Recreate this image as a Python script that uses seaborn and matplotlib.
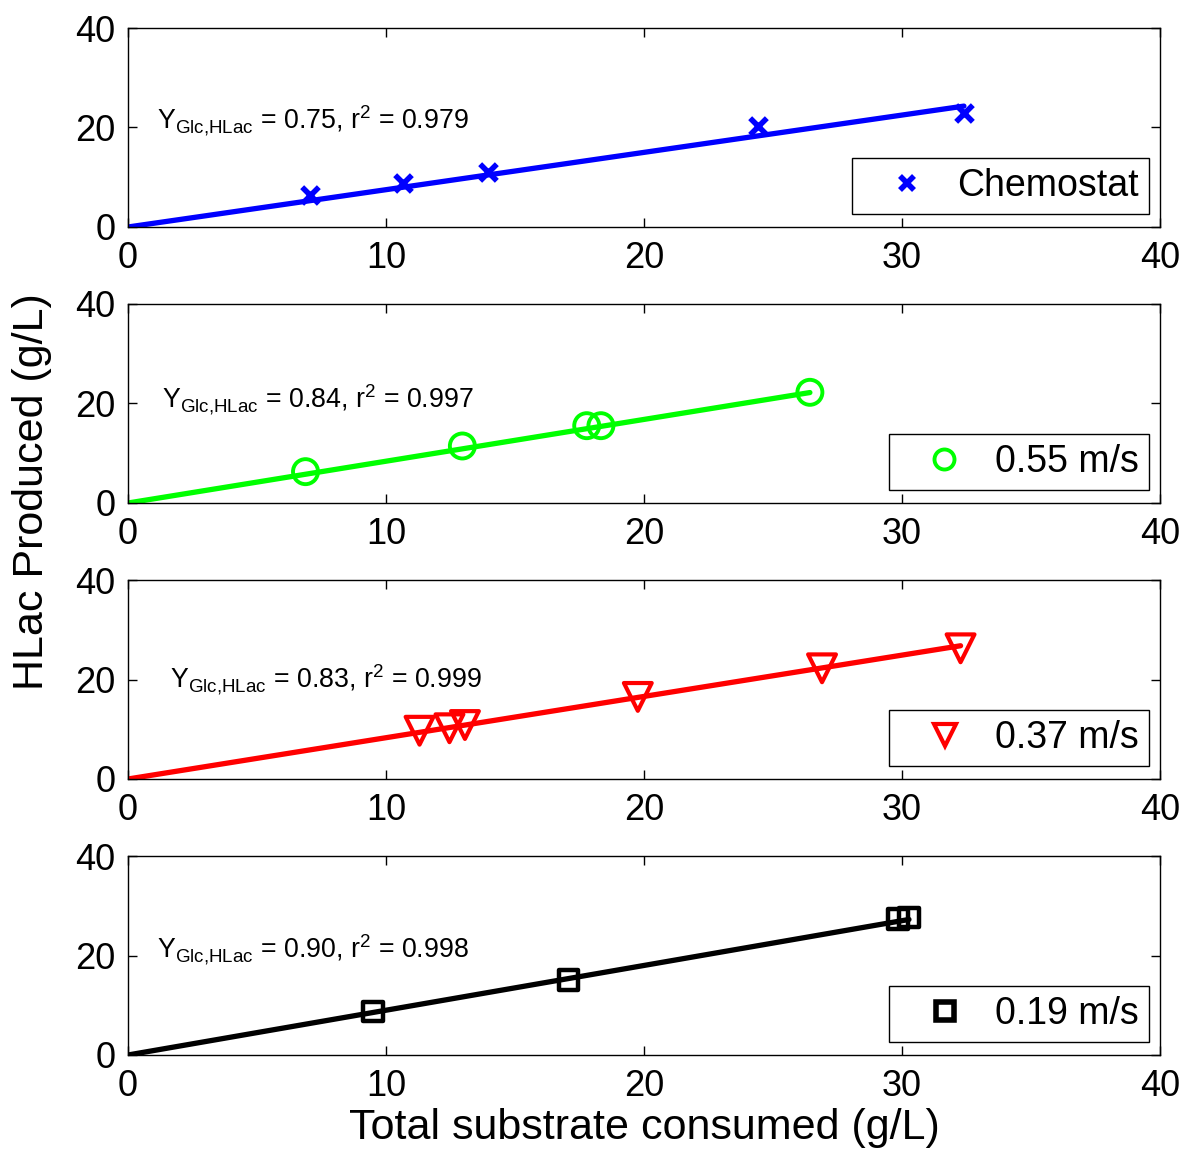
import matplotlib
matplotlib.use("Agg")
import matplotlib.pyplot as plt
from matplotlib.lines import Line2D
import numpy as np
import pandas as pd
import seaborn as sns

# ---- data: total substrate consumed (g/L) vs HLac produced (g/L) ----
chemostat_x = [7.05, 10.67, 13.94, 24.43, 32.4]
chemostat_y = [6.4, 8.9, 11.1, 20.3, 23.0]

v055_x = [6.88, 12.96, 17.78, 18.33, 26.43]
v055_y = [6.3, 11.46, 15.54, 15.54, 22.25]

v037_x = [11.3, 12.46, 13.06, 19.76, 26.9, 32.27]
v037_y = [9.7, 10.2, 10.85, 16.5, 22.25, 26.27]

v019_x = [9.5, 17.08, 29.85, 30.27]
v019_y = [8.7, 15.1, 27.3, 27.6]

series_labels = ["Chemostat", "0.55 m/s", "0.37 m/s", "0.19 m/s"]
yield_values = [0.75, 0.84, 0.83, 0.90]
r2_values = [0.979, 0.997, 0.999, 0.998]

x_ticks = [0, 10, 20, 30, 40]
y_ticks = [0, 20, 40]

# ---- style ----
sns.set_theme(style="ticks")
plt.rcParams["font.family"] = ["Liberation Sans", "DejaVu Sans"]
plt.rcParams["mathtext.fontset"] = "custom"
plt.rcParams["mathtext.rm"] = "Liberation Sans"
plt.rcParams["mathtext.it"] = "Liberation Sans"
plt.rcParams["axes.linewidth"] = 1.0
plt.rcParams["axes.edgecolor"] = "black"
plt.rcParams["text.color"] = "black"
plt.rcParams["axes.labelcolor"] = "black"
plt.rcParams["xtick.color"] = "black"
plt.rcParams["ytick.color"] = "black"
plt.rcParams["xtick.labelcolor"] = "black"
plt.rcParams["ytick.labelcolor"] = "black"
plt.rcParams["legend.labelcolor"] = "black"

series = [
    dict(x=chemostat_x, y=chemostat_y, color=(0, 0, 1), marker="x", ms=12, mew=4.0),
    dict(x=v055_x, y=v055_y, color=(0, 1, 0), marker="o", ms=18, mew=2.8),
    dict(x=v037_x, y=v037_y, color=(1, 0, 0), marker="v", ms=20, mew=3.0),
    dict(x=v019_x, y=v019_y, color=(0, 0, 0), marker="s", ms=14, mew=3.2),
]

# annotation anchors (data coordinates) per panel
text_pos = [(1.12, 19.6), (1.32, 19.0), (1.63, 18.2), (1.12, 19.4)]

W, H = 1184, 1153
fig = plt.figure(figsize=(W / 100, H / 100), dpi=100)

left = 128 / W
width = (1160 - 128) / W
tops_px = [28, 304, 580, 856]
ax_h = 199 / H

for i, s in enumerate(series):
    bottom = 1 - (tops_px[i] + 199) / H
    ax = fig.add_axes([left, bottom, width, ax_h])

    # linear fit through the origin using the stated yield
    fit_x = np.array([0.0, max(s["x"])])
    fit_df = pd.DataFrame({"x": fit_x, "y": yield_values[i] * fit_x})
    sns.lineplot(data=fit_df, x="x", y="y", ax=ax, color=s["color"],
                 linewidth=3.8, legend=False, zorder=2)

    pts = pd.DataFrame({"x": s["x"], "y": s["y"]})
    if s["marker"] == "x":
        sns.scatterplot(data=pts, x="x", y="y", ax=ax, marker="x",
                        s=s["ms"] ** 2, color=s["color"],
                        linewidth=s["mew"], legend=False, zorder=3)
    else:
        sns.scatterplot(data=pts, x="x", y="y", ax=ax, marker=s["marker"],
                        s=s["ms"] ** 2, facecolor="none",
                        edgecolor=s["color"], linewidth=s["mew"],
                        legend=False, zorder=3)

    ax.set_xlim(0, 40)
    ax.set_ylim(0, 40)
    ax.set_xticks(x_ticks)
    ax.set_yticks(y_ticks)
    ax.set_xlabel("")
    ax.set_ylabel("")
    ax.tick_params(direction="in", top=True, right=True, length=6.5,
                   width=1.0, labelsize=26, pad=9, colors="black")
    ax.tick_params(axis="x", pad=10)
    for sp in ax.spines.values():
        sp.set_visible(True)
        sp.set_color("black")
        sp.set_linewidth(1.0)

    label = (r"$\mathregular{Y_{Glc{,}HLac}}$ = " + f"{yield_values[i]:.2f}"
             + r", r$\mathregular{^2}$ = " + f"{r2_values[i]:.3f}")
    ax.text(text_pos[i][0], text_pos[i][1], label, fontsize=19.3,
            ha="left", va="baseline", color="black")

    handle = Line2D([], [], linestyle="none", marker=s["marker"],
                    markersize=s["ms"] * (0.8 if s["marker"] != "s" else 0.95),
                    markeredgewidth=s["mew"] + (0.8 if s["marker"] == "s" else 0),
                    markeredgecolor=s["color"], markerfacecolor="none",
                    color=s["color"])
    leg = ax.legend([handle], [series_labels[i]], loc="lower right",
                    bbox_to_anchor=((1149 - 128) / 1032, 13 / 199),
                    borderaxespad=0, fontsize=27, frameon=True, fancybox=False,
                    framealpha=1, edgecolor="black", borderpad=0.27,
                    handlelength=2.4, handletextpad=0.15, labelcolor="black")
    leg.get_frame().set_linewidth(1.0)

fig.text(32 / W, 1 - 492 / H, "HLac Produced (g/L)", rotation=90,
         ha="center", va="center", fontsize=31)
fig.text(644 / W, 1 - 1128 / H, "Total substrate consumed (g/L)",
         ha="center", va="center", fontsize=31)

fig.savefig("out.png", dpi=100, facecolor="white")
